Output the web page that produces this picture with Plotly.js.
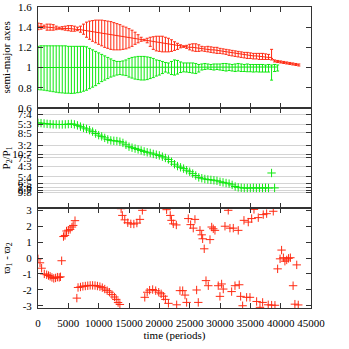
<!DOCTYPE html>
<html>
<head>
<meta charset="utf-8">
<script src="https://cdn.plot.ly/plotly-3.0.1.min.js"></script>
<style>
  html, body { margin: 0; padding: 0; background: #fff; }
  #chart { width: 349px; height: 349px; }
</style>
</head>
<body>
<div id="chart"></div>
<script>
// Sample times (periods) used by the semi-major axis and period ratio series
const sampleTimes = [
    0, 500, 1000, 1500, 2000, 2500, 3000, 3500, 4000, 4500,
    5000, 5500, 6000, 6500, 7000, 7500, 8000, 8500, 9000, 9500,
    10000, 10500, 11000, 11500, 12000, 12500, 13000, 13500, 14000, 14500,
    15000, 15500, 16000, 16500, 17000, 17500, 18000, 18500, 19000, 19500,
    20000, 20500, 21000, 21500, 22000, 22500, 23000, 23500, 24000, 24500,
    25000, 25500, 26000, 26500, 27000, 27500, 28000, 28500, 29000, 29500,
    30000, 30500, 31000, 31500, 32000, 32500, 33000, 33500, 34000, 34500,
    35000, 35500, 36000, 36500, 37000, 37500, 38000, 38500, 39000, 39500,
    40000, 40500, 41000, 41500, 42000, 42500, 43000
];

// Outer planet semi-major axis (red): mean, max, min
const redMid = [
    1.41, 1.41, 1.405, 1.40, 1.40, 1.395, 1.39, 1.39, 1.39, 1.39,
    1.385, 1.385, 1.38, 1.38, 1.375, 1.37, 1.365, 1.36, 1.36, 1.355,
    1.35, 1.345, 1.34, 1.335, 1.33, 1.325, 1.32, 1.315, 1.31, 1.305,
    1.30, 1.295, 1.29, 1.285, 1.28, 1.275, 1.27, 1.265, 1.26, 1.255,
    1.25, 1.245, 1.24, 1.235, 1.23, 1.225, 1.22, 1.215, 1.21, 1.205,
    1.20, 1.20, 1.195, 1.19, 1.19, 1.185, 1.18, 1.175, 1.175, 1.17,
    1.165, 1.16, 1.155, 1.15, 1.145, 1.14, 1.135, 1.13, 1.125, 1.12,
    1.12, 1.115, 1.115, 1.11, 1.11, 1.105, 1.10, 1.10, 1.065, 1.06,
    1.055, 1.05, 1.045, 1.04, 1.035, 1.03, 1.025
];
const redHigh = [
    1.44, 1.435, 1.42, 1.43, 1.43, 1.425, 1.41, 1.40, 1.405, 1.41,
    1.415, 1.415, 1.41, 1.40, 1.41, 1.43, 1.45, 1.46, 1.465, 1.47,
    1.47, 1.47, 1.465, 1.46, 1.455, 1.445, 1.435, 1.425, 1.41, 1.40,
    1.385, 1.37, 1.35, 1.325, 1.30, 1.28, 1.29, 1.30, 1.305, 1.31,
    1.31, 1.31, 1.30, 1.29, 1.275, 1.255, 1.24, 1.225, 1.215, 1.22,
    1.23, 1.235, 1.235, 1.225, 1.21, 1.205, 1.21, 1.205, 1.20, 1.20,
    1.19, 1.185, 1.18, 1.175, 1.17, 1.165, 1.16, 1.155, 1.15, 1.15,
    1.145, 1.14, 1.14, 1.14, 1.14, 1.135, 1.13, 1.18, 1.075, 1.07,
    1.065, 1.06, 1.055, 1.05, 1.045, 1.04, 1.035
];
const redLow = [
    1.375, 1.38, 1.39, 1.37, 1.37, 1.37, 1.375, 1.38, 1.375, 1.37,
    1.365, 1.36, 1.36, 1.365, 1.35, 1.33, 1.30, 1.28, 1.26, 1.245,
    1.23, 1.215, 1.20, 1.19, 1.18, 1.175, 1.175, 1.175, 1.18, 1.185,
    1.195, 1.21, 1.23, 1.245, 1.26, 1.265, 1.245, 1.21, 1.18, 1.165,
    1.16, 1.155, 1.155, 1.155, 1.16, 1.17, 1.18, 1.195, 1.20, 1.19,
    1.175, 1.165, 1.16, 1.16, 1.165, 1.16, 1.155, 1.15, 1.145, 1.14,
    1.14, 1.135, 1.13, 1.12, 1.115, 1.11, 1.105, 1.10, 1.095, 1.09,
    1.09, 1.085, 1.085, 1.08, 1.08, 1.08, 1.08, 1.075, 1.055, 1.05,
    1.045, 1.04, 1.035, 1.03, 1.025, 1.02, 1.015
];

// Inner planet semi-major axis (green): mean, max, min (0 .. 39500)
const greenMid = [
    1.0, 1.0, 1.0, 1.0, 1.0, 1.0, 1.0, 1.0, 1.0, 1.0,
    0.998, 0.998, 0.998, 0.998, 0.998, 0.998, 0.998, 0.998, 0.998, 0.998,
    0.998, 0.998, 0.998, 0.998, 0.998, 0.998, 0.998, 0.998, 1.0, 1.0,
    1.0, 1.0, 1.0, 1.0, 1.0, 1.0, 1.0, 1.0, 1.0, 1.0,
    1.0, 1.0, 1.0, 1.0, 1.0, 1.0, 1.0, 1.0, 1.0, 1.0,
    1.0, 1.0, 1.0, 1.0, 1.0, 1.0, 1.0, 1.0, 1.0, 1.0,
    1.005, 1.005, 1.005, 1.005, 1.005, 1.005, 1.005, 1.005, 1.0, 1.0,
    1.0, 1.0, 1.0, 1.0, 1.0, 1.0, 1.0, 1.0, 1.005, 1.005
];
const greenHigh = [
    1.21, 1.215, 1.215, 1.215, 1.215, 1.215, 1.215, 1.215, 1.215, 1.215,
    1.21, 1.21, 1.21, 1.21, 1.21, 1.21, 1.205, 1.19, 1.175, 1.16,
    1.145, 1.13, 1.115, 1.10, 1.085, 1.07, 1.06, 1.06, 1.065, 1.075,
    1.09, 1.10, 1.105, 1.11, 1.11, 1.11, 1.105, 1.10, 1.09, 1.075,
    1.07, 1.06, 1.05, 1.045, 1.06, 1.075, 1.07, 1.055, 1.045, 1.045,
    1.045, 1.045, 1.04, 1.03, 1.035, 1.04, 1.035, 1.03, 1.035, 1.035,
    1.035, 1.04, 1.04, 1.035, 1.03, 1.035, 1.04, 1.035, 1.03, 1.035,
    1.03, 1.03, 1.03, 1.03, 1.03, 1.025, 1.03, 1.025, 1.03, 1.025
];
const greenLow = [
    0.78, 0.778, 0.775, 0.77, 0.765, 0.76, 0.755, 0.75, 0.748, 0.745,
    0.745, 0.743, 0.745, 0.75, 0.755, 0.765, 0.775, 0.79, 0.805, 0.82,
    0.84, 0.86, 0.875, 0.89, 0.905, 0.915, 0.925, 0.93, 0.925, 0.92,
    0.905, 0.895, 0.885, 0.88, 0.876, 0.876, 0.88, 0.89, 0.90, 0.915,
    0.925, 0.94, 0.955, 0.945, 0.93, 0.925, 0.935, 0.95, 0.957, 0.955,
    0.95, 0.945, 0.94, 0.955, 0.975, 0.98, 0.985, 0.98, 0.975, 0.98,
    0.975, 0.97, 0.965, 0.97, 0.965, 0.96, 0.965, 0.96, 0.96, 0.958,
    0.958, 0.955, 0.957, 0.955, 0.955, 0.955, 0.955, 0.875, 0.96, 0.965
];

// Period ratio P2/P1 (0 .. 39000)
const periodRatio = [
    1.68, 1.678, 1.675, 1.672, 1.67, 1.668, 1.668, 1.667, 1.667, 1.668,
    1.67, 1.672, 1.668, 1.66, 1.65, 1.64, 1.632, 1.622, 1.61, 1.595,
    1.582, 1.572, 1.56, 1.548, 1.54, 1.537, 1.535, 1.53, 1.52, 1.505,
    1.49, 1.482, 1.475, 1.468, 1.46, 1.452, 1.445, 1.44, 1.432, 1.426,
    1.42, 1.41, 1.40, 1.388, 1.37, 1.35, 1.335, 1.325, 1.315, 1.302,
    1.29, 1.275, 1.26, 1.245, 1.238, 1.232, 1.228, 1.225, 1.222, 1.218,
    1.21, 1.205, 1.20, 1.195, 1.185, 1.172, 1.165, 1.162, 1.16, 1.16,
    1.16, 1.162, 1.16, 1.161, 1.16, 1.162, 1.16, 1.28, 1.161
];

// Resonance tick positions for the period ratio panel
const ratioTickVals = [7/4, 5/3, 8/5, 3/2, 10/7, 7/5, 4/3, 5/4, 6/5, 7/6, 8/7, 9/8];
const ratioTickText = ['7:4', '5:3', '8:5', '3:2', '10:7', '7:5', '4:3', '5:4', '6:5', '7:6', '8:7', '9:8'];

// Time axis ticks
const timeTickVals = [0, 5000, 10000, 15000, 20000, 25000, 30000, 35000, 40000, 45000];
const timeTickText = ['0', '5000', '10000', '15000', '20000', '25000', '30000', '35000', '40000', '45000'];

// Difference of the longitudes of pericentre
const phaseTime = [
    0, 330, 600, 1040, 1430, 1730, 2000, 2300, 2600, 2900,
    3200, 3500, 3700, 3900, 4200, 4450, 4700, 5000, 5300, 5600,
    5800, 6100, 6400, 6600, 7000, 7400, 7800, 8200, 8600, 9000,
    9400, 9800, 10200, 10600, 11000, 11400, 11800, 12200, 12600, 12900,
    13200, 13500, 13700, 13900, 14300, 14800, 15300, 15800, 16300, 16800,
    17200, 17600, 18000, 18400, 18900, 19400, 19900, 20300, 20700, 21000,
    21500, 21200, 21800, 22000, 22300, 22800, 22860, 23400, 23850, 24230,
    24500, 24770, 25160, 25590, 25870, 26150, 26420, 26700, 26980, 27140,
    27400, 27690, 28070, 28350, 28630, 28890, 29170, 29710, 29990, 30270,
    30540, 30820, 31360, 31640, 31920, 32190, 32470, 33010, 33170, 33400,
    33730, 33950, 34390, 34660, 34940, 35220, 35600, 36040, 36310, 36590,
    37030, 37130, 37690, 37950, 38510, 38780, 39060, 39500, 39900, 40150,
    40450, 40700, 41000, 41300, 41600, 42050, 42350, 42650, 42900
];
const phaseDiff = [
    -0.05, -0.3, -0.64, -1.0, -1.05, -1.1, -1.15, -1.22, -1.28, -1.25,
    -1.2, -1.22, -1.18, -0.17, 1.35, 1.42, 1.7, 1.75, 1.8, 1.95,
    2.05, 2.35, -2.52, -1.85, -1.82, -1.78, -1.76, -1.74, -1.72, -1.72,
    -1.73, -1.76, -1.8, -1.86, -1.95, -2.05, -2.15, -2.3, -2.45, -2.6,
    -2.8, -2.92, 3.1, 2.68, 2.4, 2.22, 2.15, 2.14, 2.2, 2.43,
    3.0, -2.47, -2.15, -2.02, -1.98, -2.05, -2.15, -2.25, -2.4, -2.6,
    -2.85, 3.04, 2.68, 2.37, 2.15, 2.08, -2.94, -2.05, -2.05, -2.33,
    -2.79, 2.48, 2.1, 1.88, 2.43, -2.01, -2.79, 1.74, 1.46, 1.21,
    0.58, -1.42, -1.74, 1.16, 1.95, 1.84, 1.74, -1.74, -2.41, -1.63,
    -1.95, 2.0, 3.0, 1.88, -2.11, 1.88, -1.74, 1.74, -1.68, -2.41,
    -3.0, 2.37, -2.47, 2.26, -2.47, 2.48, 3.06, -2.73, 2.54, -3.1,
    -2.79, 2.73, 2.79, -2.94, -2.96, 2.94, -2.97, -0.68, -0.05, 0.5,
    0.02, -0.2, -0.12, -0.02, 0.02, -1.74, -2.9, -0.43, -2.95
];

const RedColor = '#ff2a12';
const GreenColor = '#10e810';
const FontFamily = '"Liberation Serif", "Times New Roman", serif';

function diff(a, b) {
    var out = [];
    for (let i = 0; i < a.length; i++) out.push(+(a[i] - b[i]).toFixed(4));
    return out;
}

var greenTimes = sampleTimes.slice(0, greenMid.length);
var ratioTimes = sampleTimes.slice(0, periodRatio.length);

var redTrace = {
    x: sampleTimes, y: redMid, xaxis: 'x3', yaxis: 'y3',
    type: 'scatter', mode: 'lines',
    line: { color: RedColor, width: 1 },
    error_y: {
        type: 'data', symmetric: false,
        array: diff(redHigh, redMid), arrayminus: diff(redMid, redLow),
        color: RedColor, thickness: 1, width: 1.5
    },
    hoverinfo: 'none'
};

var greenTrace = {
    x: greenTimes, y: greenMid, xaxis: 'x3', yaxis: 'y3',
    type: 'scatter', mode: 'lines',
    line: { color: GreenColor, width: 1 },
    error_y: {
        type: 'data', symmetric: false,
        array: diff(greenHigh, greenMid), arrayminus: diff(greenMid, greenLow),
        color: GreenColor, thickness: 1, width: 1.5
    },
    hoverinfo: 'none'
};

var ratioTrace = {
    x: ratioTimes, y: periodRatio, xaxis: 'x2', yaxis: 'y2',
    type: 'scatter', mode: 'markers',
    marker: { symbol: 'cross-thin-open', size: 6, color: GreenColor, line: { color: GreenColor, width: 1 } },
    hoverinfo: 'none'
};

var phaseTrace = {
    x: phaseTime, y: phaseDiff, xaxis: 'x', yaxis: 'y',
    type: 'scatter', mode: 'markers',
    marker: { symbol: 'cross-thin-open', size: 6, color: RedColor, line: { color: RedColor, width: 1 } },
    hoverinfo: 'none'
};

// Shared look of every axis (gnuplot style frame with inward ticks)
function axisStyle(extra) {
    var base = {
        showline: true, linecolor: '#333', linewidth: 1, mirror: 'ticks',
        ticks: 'inside', ticklen: 5, tickcolor: '#333', tickwidth: 1,
        showgrid: false, zeroline: false, fixedrange: true,
        tickfont: { family: FontFamily, size: 11, color: '#000' }
    };
    return Object.assign(base, extra);
}

var xCommon = { range: [0, 45000], tickvals: timeTickVals, ticktext: timeTickText };

var layout = {
    width: 349, height: 349,
    margin: { l: 38, r: 38, t: 7, b: 41 },
    showlegend: false,
    paper_bgcolor: '#fff', plot_bgcolor: '#fff',
    font: { family: FontFamily, size: 11, color: '#000' },
    xaxis: axisStyle(Object.assign({
        anchor: 'y', ticklabelstandoff: 5,
        title: { text: 'time (periods)', standoff: 0, font: { family: FontFamily, size: 11 } }
    }, xCommon)),
    xaxis2: axisStyle(Object.assign({ anchor: 'y2', matches: 'x', showticklabels: false }, xCommon)),
    xaxis3: axisStyle(Object.assign({ anchor: 'y3', matches: 'x', showticklabels: false }, xCommon)),
    yaxis: axisStyle({
        domain: [0, 0.332], anchor: 'x', range: [-Math.PI, Math.PI],
        tickvals: [-3, -2, -1, 0, 1, 2, 3], ticktext: ['-3', '-2', '-1', '0', '1', '2', '3'],
        ticklabelstandoff: 3,
        title: { text: 'ϖ<sub>1</sub> - ϖ<sub>2</sub>', font: { family: FontFamily, size: 11 } }
    }),
    yaxis2: axisStyle({
        domain: [0.332, 0.665], anchor: 'x2', range: [1.0, 1.8],
        tickvals: ratioTickVals, ticktext: ratioTickText,
        showgrid: true, gridcolor: '#d4d4d4', gridwidth: 1,
        ticklabelstandoff: 3,
        title: { text: 'P<sub>2</sub>/P<sub>1</sub>', font: { family: FontFamily, size: 11 } }
    }),
    yaxis3: axisStyle({
        domain: [0.665, 1], anchor: 'x3', range: [0.6, 1.6],
        tickvals: [0.6, 0.8, 1.0, 1.2, 1.4, 1.6], ticktext: ['0.6', '0.8', '1', '1.2', '1.4', '1.6'],
        ticklabelstandoff: 3,
        title: { text: 'semi-major axes', font: { family: FontFamily, size: 11 } }
    })
};

Plotly.newPlot('chart', [greenTrace, redTrace, ratioTrace, phaseTrace], layout, { displayModeBar: false, staticPlot: true });
</script>
</body>
</html>
